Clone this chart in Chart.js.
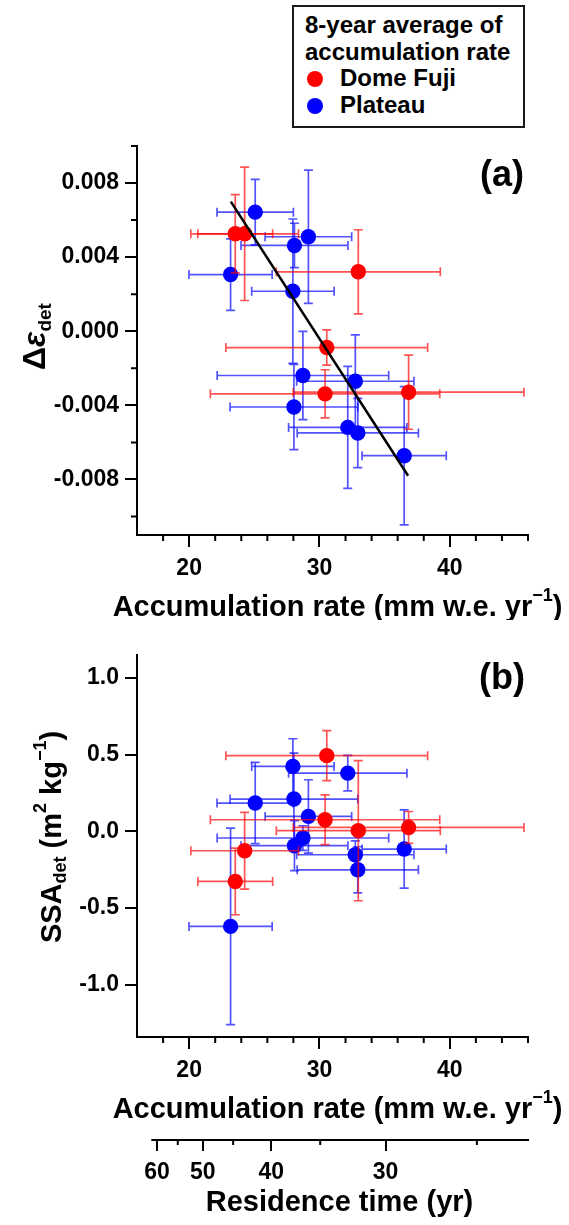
<!DOCTYPE html>
<html>
<head>
<meta charset="utf-8">
<script src="https://cdn.jsdelivr.net/npm/chart.js@4.4.1/dist/chart.umd.min.js"></script>
<style>
  body { margin: 0; background: #fff; width: 569px; height: 1225px; position: relative; overflow: hidden;
         font-family: "Liberation Sans", Arial, sans-serif; }
  #chartA { position: absolute; left: 0; top: 0; }
  #chartB { position: absolute; left: 0; top: 620px; }
  #legend { position: absolute; left: 292px; top: 5px; width: 233px; height: 123px; box-sizing: border-box;
            border: 2px solid #1a1a1a; padding: 5px 0 0 11px; font-weight: bold; font-size: 24px;
            line-height: 26.7px; color: #000; z-index: 2; background: #fff; }
  #legend .it { padding-left: 2px; }
  #legend .dot { display: inline-block; width: 16px; height: 16px; border-radius: 50%; margin-right: 17px;
                 vertical-align: -1px; }
</style>
</head>
<body>
<canvas id="chartA" width="569" height="620"></canvas>
<canvas id="chartB" width="569" height="605"></canvas>
<div id="legend">
  <div>8-year average of<br>accumulation rate</div>
  <div class="it"><span class="dot" style="background:#ff0000"></span>Dome Fuji</div>
  <div class="it"><span class="dot" style="background:#0000ff"></span>Plateau</div>
</div>
<script>
// Dome Fuji (red)
const domeAcc    = [23.54, 24.26, 32.98, 30.56, 30.43, 36.84];
const domeAccErr = [2.87, 4.13, 6.29, 7.74, 8.8, 8.85];
const domeEps    = [0.00526, 0.00526, 0.00321, -0.00088, -0.00338, -0.00329];
const domeEpsErr = [0.00211, 0.0036, 0.00227, 0.00095, 0.0013, 0.002];
const domeSSA    = [-0.326, -0.126, 0.005, 0.494, 0.076, 0.026];
const domeSSAErr = [0.217, 0.25, 0.457, 0.163, 0.162, 0.104];

// Plateau (blue)
const platAcc    = [25.07, 29.15, 28.08, 23.18, 27.96, 28.73, 32.75, 28.04, 32.17, 32.94, 36.5];
const platAccErr = [2.93, 3.32, 4.1, 3.19, 3.16, 6.58, 4.5, 4.9, 4.54, 4.65, 3.23];
const platEps    = [0.00643, 0.0051, 0.00463, 0.00306, 0.00216, -0.00239, -0.0027, -0.00409, -0.00519, -0.00549, -0.00672];
const platEpsErr = [0.00177, 0.0036, 0.0012, 0.00193, 0.0039, 0.00238, 0.0025, 0.0023, 0.00329, 0.00187, 0.00373];
const platSSA    = [0.185, 0.098, -0.093, -0.619, 0.424, -0.043, -0.152, 0.211, 0.38, -0.25, -0.115];
const platSSAErr = [0.265, 0.239, 0.163, 0.64, 0.18, 0.08, 0.09, 0.3, 0.116, 0.15, 0.255];

// regression line in panel (a)
const fitAcc = [23.2, 36.8];
const fitEps = [0.0070, -0.0078];

// axis ticks
const accTicks = [20, 30, 40];
const accMinor = [18, 22, 24, 26, 28, 32, 34, 36, 38, 42, 44, 46];
const epsTicks = [-0.008, -0.004, 0, 0.004, 0.008];
const epsMinor = [-0.010, -0.006, -0.002, 0.002, 0.006, 0.010];
const ssaTicks = [-1.0, -0.5, 0, 0.5, 1.0];
const resTicks = [60, 50, 40, 30];
const resMinor = [55, 45, 35, 25];
const resFactor = 1052; // residence time (yr) = resFactor / accumulation rate

const FONT = "'Liberation Sans', Arial, sans-serif";

// error bars, drawn just before each dataset's points
const errorBars = {
  id: 'errorBars',
  beforeDatasetDraw(chart, args) {
    const ds = chart.data.datasets[args.index];
    if (!ds.xErr) return;
    const { ctx } = chart;
    const xs = chart.scales.x, ys = chart.scales.y;
    const cap = 4.5;
    ctx.save();
    ctx.strokeStyle = ds.errColor;
    ctx.lineWidth = 1.7;
    ds.data.forEach((p, i) => {
      const cx = xs.getPixelForValue(p.x), cy = ys.getPixelForValue(p.y);
      const x0 = xs.getPixelForValue(p.x - ds.xErr[i]), x1 = xs.getPixelForValue(p.x + ds.xErr[i]);
      const y0 = ys.getPixelForValue(p.y - ds.yErr[i]), y1 = ys.getPixelForValue(p.y + ds.yErr[i]);
      ctx.beginPath();
      ctx.moveTo(x0, cy); ctx.lineTo(x1, cy);
      ctx.moveTo(x0, cy - cap); ctx.lineTo(x0, cy + cap);
      ctx.moveTo(x1, cy - cap); ctx.lineTo(x1, cy + cap);
      ctx.moveTo(cx, y0); ctx.lineTo(cx, y1);
      ctx.moveTo(cx - cap, y0); ctx.lineTo(cx + cap, y0);
      ctx.moveTo(cx - cap, y1); ctx.lineTo(cx + cap, y1);
      ctx.stroke();
    });
    ctx.restore();
  }
};

// text with sub/superscripts: parts = [text, size, dy, style]
function richText(ctx, parts, x, y, rotate) {
  const fnt = p => `${p[3] || 'bold'} ${p[1]}px ${FONT}`;
  ctx.save();
  ctx.translate(x, y);
  if (rotate) ctx.rotate(-Math.PI / 2);
  let total = 0;
  parts.forEach(p => { ctx.font = fnt(p); total += ctx.measureText(p[0]).width; });
  let cx = -total / 2;
  ctx.fillStyle = '#000';
  ctx.textAlign = 'left';
  ctx.textBaseline = 'alphabetic';
  parts.forEach(p => {
    ctx.font = fnt(p);
    ctx.fillText(p[0], cx, p[2] || 0);
    cx += ctx.measureText(p[0]).width;
  });
  ctx.restore();
}

// minor ticks, axis titles, panel label
const decor = {
  id: 'decor',
  afterDraw(chart, args, opts) {
    const { ctx, chartArea: a } = chart;
    ctx.save();
    ctx.strokeStyle = '#000';
    ctx.lineWidth = 2;
    (opts.minor || []).forEach(m => {
      const s = chart.scales[m.id];
      ctx.beginPath();
      m.values.forEach(v => {
        const p = s.getPixelForValue(v);
        if (s.isHorizontal()) { ctx.moveTo(p, s.top); ctx.lineTo(p, s.top + 6); }
        else { ctx.moveTo(s.right, p); ctx.lineTo(s.right - 6, p); }
      });
      ctx.stroke();
    });
    if (opts.resLine) {
      const s = chart.scales.xr;
      const y = Math.round(s.top) + 1;
      ctx.beginPath();
      ctx.moveTo(s.getPixelForValue(opts.resLine), y);
      ctx.lineTo(s.getPixelForValue(s.max) + 1, y);
      ctx.stroke();
    }
    ctx.restore();

    const midX = (a.left + a.right) / 2, midY = (a.top + a.bottom) / 2;
    richText(ctx, [['Accumulation rate (mm w.e. yr', 29], ['\u22121', 18, -15], [')', 29]],
             midX + 5, a.bottom + 81);
    richText(ctx, opts.yTitle, opts.yTitleX, midY + opts.yTitleShift, true);
    if (opts.resLine) {
      richText(ctx, [['Residence time (yr)', 29]], midX + 7, chart.scales.xr.top + 72);
    }
    ctx.save();
    ctx.font = `bold 36px ${FONT}`;
    ctx.fillStyle = '#000';
    ctx.textAlign = 'center';
    ctx.textBaseline = 'middle';
    ctx.fillText(opts.panel, a.right - 26, a.top + opts.panelY);
    ctx.restore();
  }
};

function tickFont() { return { family: FONT, size: 23, weight: 'bold' }; }

function xAxis(height, weight, ticks, label) {
  return {
    type: 'linear', position: 'bottom', axis: 'x', min: 16, max: 46, weight: weight,
    afterBuildTicks: s => { s.ticks = ticks.map(v => ({ value: v })); },
    afterFit: s => { s.height = height; },
    ticks: { autoSkip: false, maxRotation: 0, padding: 8, color: '#000', font: tickFont(), callback: label },
    grid: { drawOnChartArea: false, drawTicks: true, tickLength: 12, color: '#000', lineWidth: 2 },
    border: { display: true, color: '#000', width: 2 }
  };
}

function yAxis(min, max, ticks, digits) {
  return {
    type: 'linear', position: 'left', min: min, max: max,
    afterBuildTicks: s => { s.ticks = ticks.map(v => ({ value: v })); },
    afterFit: s => { s.width = 137; },
    ticks: { autoSkip: false, padding: 6, color: '#000', font: tickFont(), callback: v => v.toFixed(digits) },
    grid: { drawOnChartArea: false, drawTicks: true, tickLength: 12, color: '#000', lineWidth: 2 },
    border: { display: true, color: '#000', width: 2 }
  };
}

function pts(xs, ys) { return xs.map((x, i) => ({ x: x, y: ys[i] })); }

function seriesSets(domeY, domeYErr, platY, platYErr) {
  return [
    { label: 'Dome Fuji', data: pts(domeAcc, domeY), xErr: domeAccErr, yErr: domeYErr,
      errColor: 'rgba(255,0,0,0.68)', backgroundColor: '#ff0000', pointRadius: 7.7, borderWidth: 0, order: 1 },
    { label: 'Plateau', data: pts(platAcc, platY), xErr: platAccErr, yErr: platYErr,
      errColor: 'rgba(0,0,255,0.68)', backgroundColor: '#0000ff', pointRadius: 7.7, borderWidth: 0, order: 2 }
  ];
}

new Chart(document.getElementById('chartA'), {
  type: 'scatter',
  data: {
    datasets: [
      { label: 'fit', data: pts(fitAcc, fitEps), showLine: true, borderColor: '#000', borderWidth: 2.5,
        pointRadius: 0, order: 0 },
      ...seriesSets(domeEps, domeEpsErr, platEps, platEpsErr)
    ]
  },
  options: {
    responsive: false, animation: false, events: [],
    layout: { padding: { left: 0, right: 41, top: 146, bottom: 0 } },
    plugins: {
      legend: { display: false }, tooltip: { enabled: false },
      decor: {
        minor: [{ id: 'x', values: accMinor }, { id: 'y', values: epsMinor }],
        yTitle: [['\u0394', 32], ['\u03b5', 32, 0, 'italic bold'], ['det', 19, 6]],
        yTitleX: 45, yTitleShift: -4, panel: '(a)', panelY: 30
      }
    },
    scales: {
      x: xAxis(85, 0, accTicks, v => v),
      y: yAxis(-0.011, 0.010, epsTicks, 3)
    }
  },
  plugins: [errorBars, decor]
});

new Chart(document.getElementById('chartB'), {
  type: 'scatter',
  data: { datasets: seriesSets(domeSSA, domeSSAErr, platSSA, platSSAErr) },
  options: {
    responsive: false, animation: false, events: [],
    layout: { padding: { left: 0, right: 41, top: 35, bottom: 0 } },
    plugins: {
      legend: { display: false }, tooltip: { enabled: false },
      decor: {
        minor: [{ id: 'x', values: accMinor }, { id: 'xr', values: resMinor.map(t => resFactor / t) }],
        yTitle: [['SSA', 29], ['det', 18, 5], [' (m', 29], ['2', 18, -15], [' kg', 29], ['\u22121', 18, -15], [')', 29]],
        yTitleX: 61, yTitleShift: -9, panel: '(b)', panelY: 24, resLine: 17.1
      }
    },
    scales: {
      x: xAxis(102, 0, accTicks, v => v),
      xr: Object.assign(xAxis(86, 1, resTicks.map(t => resFactor / t), v => Math.round(resFactor / v)),
                        { border: { display: false } }),
      y: yAxis(-1.34, 1.15, ssaTicks, 1)
    }
  },
  plugins: [errorBars, decor]
});
</script>
</body>
</html>
